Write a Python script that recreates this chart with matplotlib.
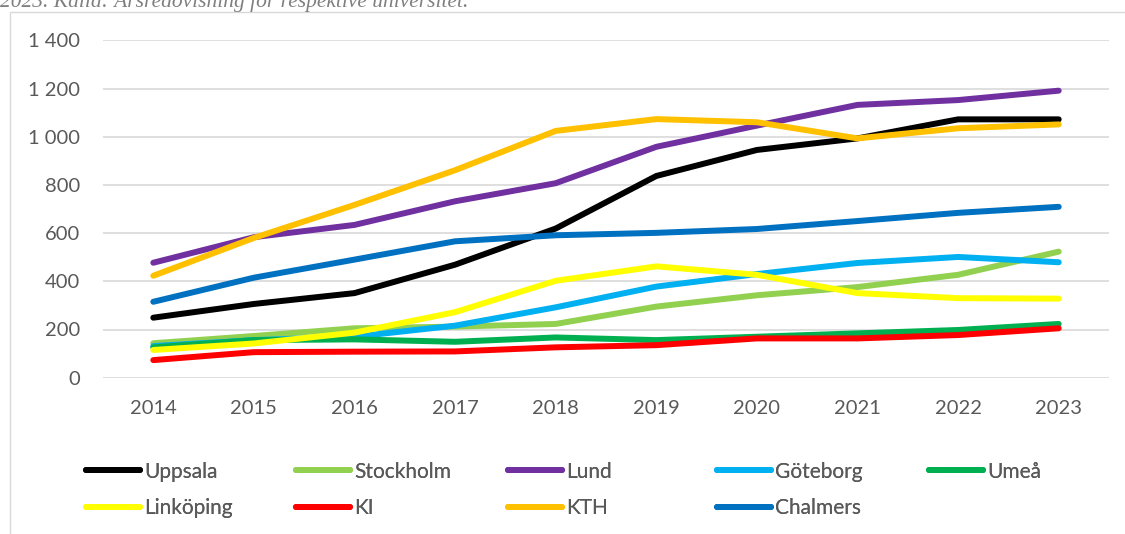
#!/usr/bin/env python3

import matplotlib
matplotlib.use("Agg")
import matplotlib.pyplot as plt
from matplotlib.patches import Rectangle
from matplotlib.ticker import FuncFormatter


years = [2014, 2015, 2016, 2017, 2018, 2019, 2020, 2021, 2022, 2023]

uppsala = [249, 306, 351, 469, 619, 837, 945, 993, 1072, 1072]
stockholm = [143, 173, 205, 212, 223, 295, 342, 376, 427, 523]
lund = [477, 583, 634, 732, 807, 958, 1046, 1132, 1152, 1191]
goteborg = [131, 156, 170, 216, 292, 378, 430, 476, 501, 479]
umea = [126, 156, 159, 149, 167, 156, 170, 184, 198, 223]
linkoping = [115, 142, 187, 272, 402, 462, 427, 351, 330, 328]
ki = [73, 106, 108, 109, 126, 135, 163, 163, 177, 205]
kth = [423, 580, 717, 861, 1024, 1073, 1060, 993, 1035, 1051]
chalmers = [315, 415, 490, 566, 591, 601, 617, 650, 684, 709]

names = ["Uppsala", "Stockholm", "Lund", "Göteborg", "Umeå",
         "Linköping", "KI", "KTH", "Chalmers"]
series = [uppsala, stockholm, lund, goteborg, umea,
          linkoping, ki, kth, chalmers]
colors = ["#000000", "#92D050", "#7030A0", "#00B0F0", "#00B050",
          "#FFFF00", "#FF0000", "#FFC000", "#0070C0"]

yticks = [0, 200, 400, 600, 800, 1000, 1200, 1400]

caption = "2023. Källa: Årsredovisning för respektive universitet."


def main():
    W, H = 1125, 534
    fig = plt.figure(figsize=(W / 100, H / 100), dpi=100)
    plt.rcParams["font.family"] = ["Lato", "DejaVu Sans"]
    grey = "#595959"

    # chart area border (only left and top visible)
    fig.add_artist(Rectangle((10 / W, -0.2), 1.2, 1 - 12 / H + 0.2,
                             transform=fig.transFigure, fill=False,
                             edgecolor="#d9d9d9", lw=1.0))

    # caption, cut off at the top like in the source
    fig.text(0.0, 1 - 7 / H, caption, family="Liberation Serif",
             style="italic", fontsize=15.5, color="#7f7f7f",
             va="baseline", ha="left")

    ax = fig.add_axes([103 / W, 1 - 377.7 / H,
                       (1109 - 103) / W, (377.7 - 40.3) / H])
    x = list(range(len(years)))
    lines = []
    for name, vals, c in zip(names, series, colors):
        ln, = ax.plot(x, vals, color=c, lw=4.3, solid_capstyle="round",
                      solid_joinstyle="round", label=name)
        lines.append(ln)

    ax.set_xlim(-0.5, len(years) - 0.5)
    ax.set_ylim(0, 1400)
    ax.set_yticks(yticks)
    ax.yaxis.set_major_formatter(
        FuncFormatter(lambda v, p: f"{int(v):,}".replace(",", " ")))
    ax.set_xticks(x)
    ax.set_xticklabels([str(y) for y in years])
    ax.tick_params(axis="both", length=0, labelsize=14.5, colors=grey)
    ax.tick_params(axis="y", pad=16.5)
    ax.tick_params(axis="x", pad=16)
    ax.grid(axis="y", color="#d9d9d9", lw=1.2)
    ax.set_axisbelow(True)
    for s in ax.spines.values():
        s.set_visible(False)

    # legend, two rows of five columns
    col_x = [86, 296, 508, 717, 929]
    row_y = [471.7, 508.3]
    for i, ln in enumerate(lines):
        r, c = divmod(i, 5)
        leg = fig.legend([ln], [ln.get_label()], loc="center left",
                         bbox_to_anchor=(col_x[c] / W, 1 - row_y[r] / H),
                         frameon=False, fontsize=15, handlelength=2.6,
                         handletextpad=0.2, borderpad=0, borderaxespad=0,
                         labelcolor=grey)
        fig.add_artist(leg)

    fig.savefig("out.png", dpi=100)


if __name__ == "__main__":
    main()
